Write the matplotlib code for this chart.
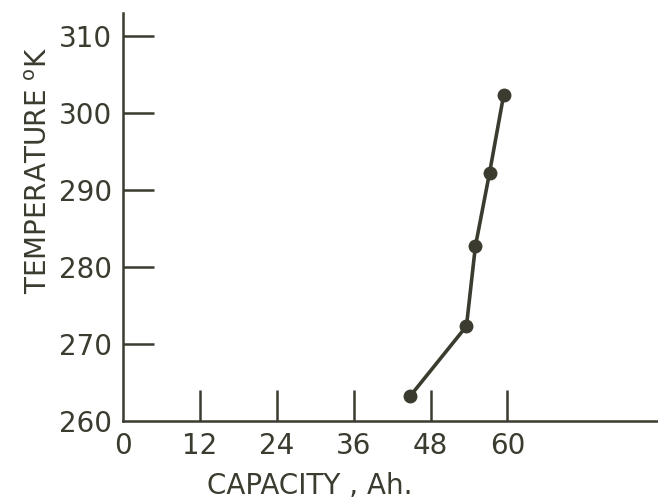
import matplotlib
matplotlib.use("Agg")
import matplotlib.pyplot as plt

# data
capacity = [44.8, 53.6, 55.0, 57.2, 59.4]       # Ah
temperature = [263.2, 272.3, 282.7, 292.2, 302.3]  # K

x_ticks = [0, 12, 24, 36, 48, 60]
y_ticks = [260, 270, 280, 290, 300, 310]

ink = '#3b3b30'
plt.rcParams['font.family'] = ['DejaVu Sans']

fig = plt.figure(figsize=(6.58, 5.01), dpi=100)
ax = fig.add_axes([0.187, 0.160, 0.813, 0.814])

ax.plot(capacity, temperature, color=ink, lw=2.6, marker='o', ms=9,
        mfc=ink, mec=ink, solid_capstyle='round')

ax.set_xlim(0, 83.5)
ax.set_ylim(260, 313)
ax.set_xticks(x_ticks)
ax.set_yticks(y_ticks)

for s in ['top', 'right']:
    ax.spines[s].set_visible(False)
for s in ['left', 'bottom']:
    ax.spines[s].set_color(ink)
    ax.spines[s].set_linewidth(1.8)

ax.tick_params(direction='in', length=22, width=1.8, color=ink,
               labelcolor=ink, labelsize=20, pad=8)

# no tick marks at the origin, only labels
ax.xaxis.get_major_ticks()[0].tick1line.set_visible(False)
ax.yaxis.get_major_ticks()[0].tick1line.set_visible(False)

fig.text(0.47, 0.03, 'CAPACITY , Ah.', ha='center', va='center',
         fontsize=20, color=ink)
fig.text(0.06, 0.66, 'TEMPERATURE $^{\\mathregular{o}}$K', ha='center', va='center',
         rotation=90, fontsize=20, color=ink)

fig.savefig('out.png', dpi=100)
